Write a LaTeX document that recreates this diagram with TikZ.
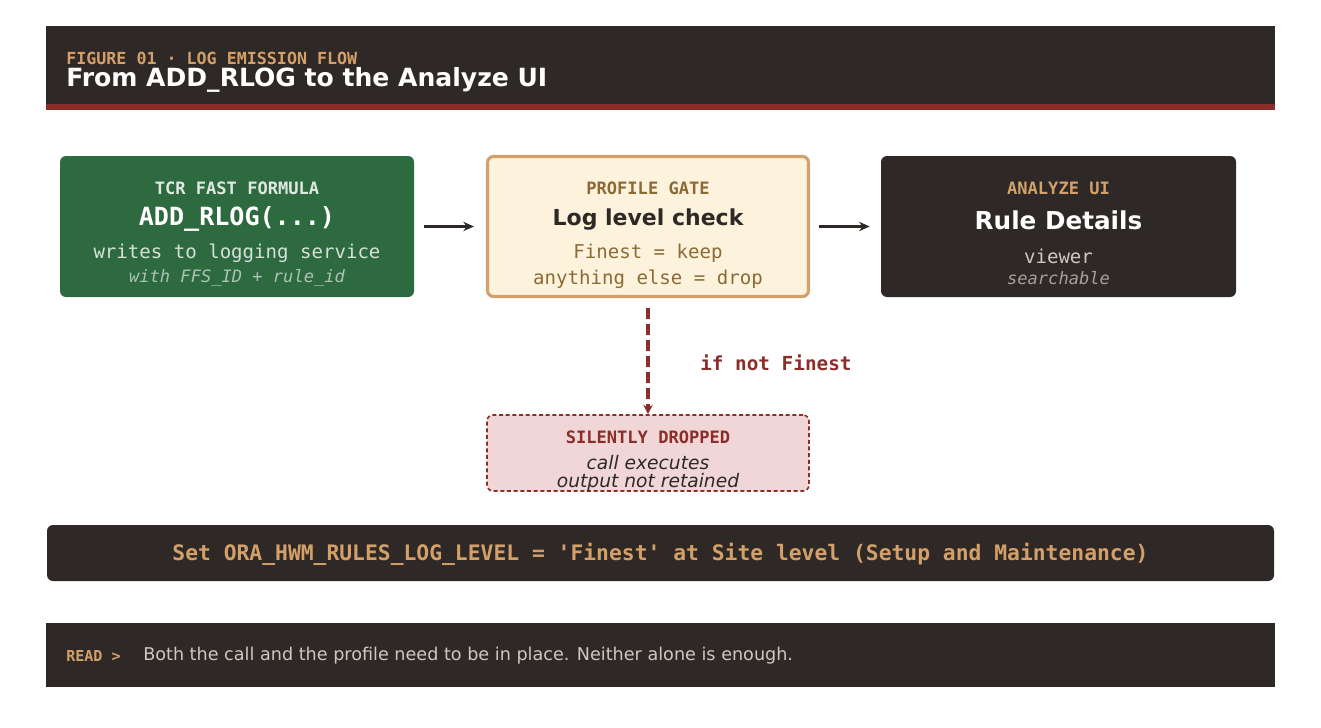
\documentclass[tikz,border=0pt]{standalone}
\usepackage{fontspec}
\setmainfont{DejaVu Sans}
\setsansfont{DejaVu Sans}
\setmonofont{DejaVu Sans Mono}
\usetikzlibrary{arrows.meta}
\definecolor{dark}{HTML}{2E2926}
\definecolor{accent}{HTML}{D4A06A}
\definecolor{red}{HTML}{8B2E2A}
\definecolor{green}{HTML}{2D6A3F}
\definecolor{cream}{HTML}{FDF3DC}
\definecolor{brown}{HTML}{8C6A35}
\definecolor{pink}{HTML}{F0D6D6}
\definecolor{grey}{HTML}{CFC8C0}
\begin{document}
\begin{tikzpicture}[x=0.75pt,y=-0.75pt,
  box/.style={rounded corners=4.5pt},
  t/.style={anchor=center,inner sep=0},
  arr/.style={-{Stealth[length=8pt,width=7pt]},line width=2.4pt,dark}]
\useasboundingbox (0,0) rectangle (1321,728);
\fill[white] (0,0) rectangle (1321,728);
% header
\fill[dark] (46,26) rectangle (1275,104);
\fill[red] (46,104) rectangle (1275,110);
\node[anchor=base west,inner sep=0,text=accent,font=\ttfamily\bfseries\fontsize{12.5}{14}\selectfont] (fig) at (66,64) {FIGURE 01 · LOG EMISSION FLOW};
\node[anchor=base west,inner sep=0,text=white,font=\bfseries\fontsize{18.8}{20}\selectfont] (title) at (66,86) {From ADD\_RLOG to the Analyze UI};
% boxes
\node[box,fill=green,minimum width=354*0.75pt,minimum height=141*0.75pt] (tcr) at (237,226.5) {};
\node[t,text=green!15,font=\ttfamily\bfseries\fontsize{12.8}{14}\selectfont] at (237,188) {TCR FAST FORMULA};
\node[t,text=white,font=\ttfamily\bfseries\fontsize{18.8}{20}\selectfont] at (237,219) {ADD\_RLOG(...)};
\node[t,text=green!20,font=\ttfamily\fontsize{14.3}{16}\selectfont] at (237,253) {writes to logging service};
\node[t,text=green!40,font=\ttfamily\itshape\fontsize{12.8}{14}\selectfont] at (237,278) {with FFS\_ID + rule\_id};

\node[box,fill=cream,draw=accent,line width=2.3pt,minimum width=321*0.75pt,minimum height=140*0.75pt] (gate) at (648,226.5) {};
\node[t,text=brown,font=\ttfamily\bfseries\fontsize{12.8}{14}\selectfont] at (648,188) {PROFILE GATE};
\node[t,text=dark,font=\bfseries\fontsize{16.5}{19}\selectfont] at (648,220) {Log level check};
\node[t,text=brown,font=\ttfamily\fontsize{14.3}{16}\selectfont] at (648,253) {Finest = keep};
\node[t,text=brown,font=\ttfamily\fontsize{14.3}{16}\selectfont] at (648,279) {anything else = drop};

\node[box,fill=dark,minimum width=355*0.75pt,minimum height=141*0.75pt] (ui) at (1058.5,226.5) {};
\node[t,text=accent,font=\ttfamily\bfseries\fontsize{12.8}{14}\selectfont] at (1058.5,188) {ANALYZE UI};
\node[t,text=white,font=\bfseries\fontsize{18.5}{21}\selectfont] at (1058.5,220) {Rule Details};
\node[t,text=grey,font=\ttfamily\fontsize{14.3}{16}\selectfont] at (1058.5,256) {viewer};
\node[t,text=grey!75!dark,font=\ttfamily\itshape\fontsize{12.8}{14}\selectfont] at (1058.5,278) {searchable};

\node[box,fill=pink,draw=red,line width=1.2pt,dash pattern=on 3pt off 2pt,minimum width=322*0.75pt,minimum height=76*0.75pt] (drop) at (648,453) {};
\node[t,text=red,font=\ttfamily\bfseries\fontsize{12.8}{14}\selectfont] at (648,437) {SILENTLY DROPPED};
\node[t,text=dark,font=\itshape\fontsize{14}{16}\selectfont] at (648,463) {call executes};
\node[t,text=dark,font=\itshape\fontsize{14}{16}\selectfont] at (648,482) {output not retained};

% arrows
\draw[arr] (tcr.east)++(10*0.75pt,0) -- ([xshift=-12*0.75pt]gate.west);
\draw[arr] (gate.east)++(9*0.75pt,0) -- ([xshift=-11*0.75pt]ui.west);
\draw[red,line width=2.6pt,dash pattern=on 8pt off 4pt,-{Stealth[length=7pt,width=7pt]}] ([yshift=-10*0.75pt]gate.south) -- (drop.north);
\node[anchor=west,inner sep=0,text=red,font=\ttfamily\bfseries\fontsize{14.5}{16}\selectfont] (lbl) at (700,363) {if not Finest};

% bottom bar
\node[box,fill=dark,minimum width=1227*0.75pt,minimum height=56*0.75pt] (bar) at (660.5,553) {};
\node[t,text=accent,font=\ttfamily\bfseries\fontsize{16}{18}\selectfont] at (660.5,554) {Set ORA\_HWM\_RULES\_LOG\_LEVEL = 'Finest' at Site level (Setup and Maintenance)};

% footer
\fill[dark] (46,623) rectangle (1275,687);
\node[anchor=west,inner sep=0,text=accent,font=\ttfamily\bfseries\fontsize{11.3}{13}\selectfont] (read) at (66,656) {READ >};
\node[anchor=west,inner sep=0,text=grey,font=\fontsize{13.2}{15}\selectfont] (readtxt) at (143,656) {Both the call and the profile need to be in place. Neither alone is enough.};
\end{tikzpicture}
\end{document}
